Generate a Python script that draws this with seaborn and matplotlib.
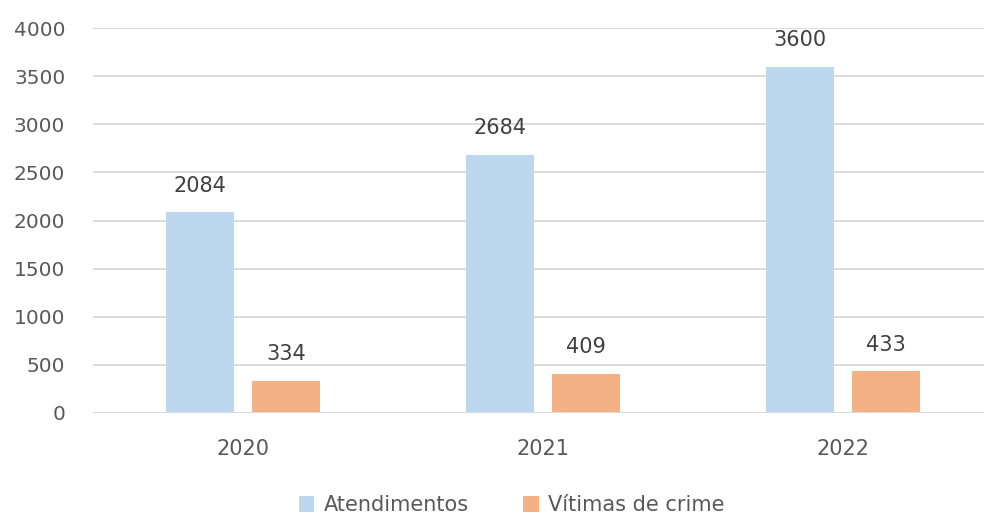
import pandas as pd
import seaborn as sns
import matplotlib.pyplot as plt

# --------------------------- DATA ---------------------------
anos = ["2020", "2021", "2022"]
atendimentos = [2084, 2684, 3600]
vitimas = [334, 409, 433]
series = ["Atendimentos", "Vítimas de crime"]

df = pd.DataFrame({
    "Ano": anos * 2,
    "Serie": [series[0]] * 3 + [series[1]] * 3,
    "Valor": atendimentos + vitimas,
})

# --------------------------- STYLE ---------------------------
sns.set_style("white")
plt.rcParams["font.family"] = ["DejaVu Sans"]
txt = "#595959"
palette = {series[0]: "#BDD7EE", series[1]: "#F4B183"}

fig = plt.figure(figsize=(9.84, 5.2), dpi=100)
ax = fig.add_axes([93 / 984, 107 / 520, 900 / 984, 385 / 520])

sns.barplot(data=df, x="Ano", y="Valor", hue="Serie", palette=palette,
            width=0.57, gap=0.2, saturation=1, linewidth=0, ax=ax, legend=True)

ax.set_ylim(0, 4000)
ax.set_xlim(-0.5, 2.5)
ax.set_yticks(range(0, 4001, 500))
ax.yaxis.grid(True, color="#D9D9D9", linewidth=1.3)
ax.set_axisbelow(True)
for s in ax.spines.values():
    s.set_visible(False)
ax.axhline(0, color="#D9D9D9", linewidth=1.5, zorder=3)
ax.set_xlabel("")
ax.set_ylabel("")
ax.tick_params(axis="y", length=0, pad=20, labelsize=14.5, labelcolor=txt)
ax.tick_params(axis="x", length=0, pad=19, labelsize=15, labelcolor=txt)

for c in ax.containers:
    ax.bar_label(c, fmt="%d", padding=12, fontsize=15, color="#404040")

ax.legend(loc="upper center", bbox_to_anchor=(0.465, -0.165), ncol=2,
          frameon=False, fontsize=15, handlelength=0.75, handleheight=0.75,
          columnspacing=2.6, handletextpad=0.45, labelcolor=txt)

fig.savefig("out.png", dpi=100)
